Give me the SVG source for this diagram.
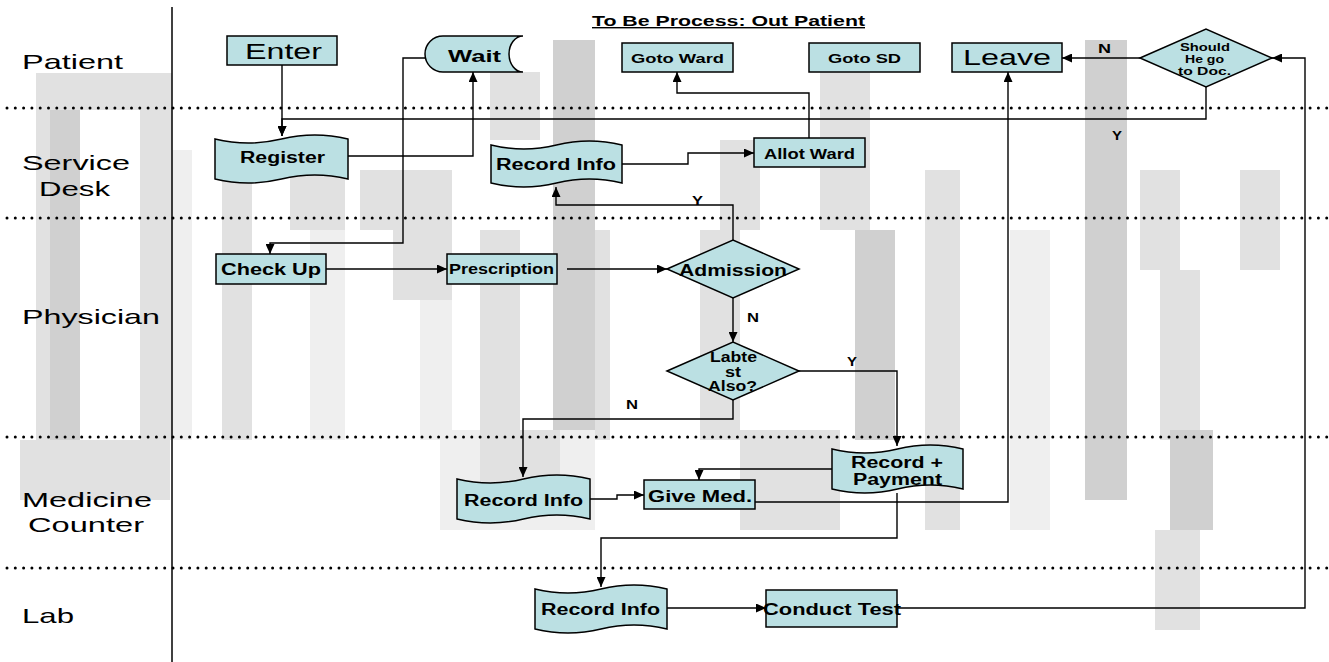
<svg xmlns="http://www.w3.org/2000/svg" width="1329" height="662" viewBox="0 0 1329 662">
<style>
.wm1{fill:#d0d0d0}.wm2{fill:#e1e1e1}.wm3{fill:#efefef}
.node{fill:#bbe0e3;stroke:#000;stroke-width:1.5}
.conn{fill:none;stroke:#000;stroke-width:1.4;marker-end:url(#arr)}
.dot{fill:none;stroke:#000;stroke-width:3;stroke-linecap:round;stroke-dasharray:0 8.3}
text{font-family:"Liberation Sans",Arial,sans-serif;fill:#000}
.lane{font-size:21px}
.b{font-weight:bold}
</style>
<defs>
<marker id="arr" markerUnits="userSpaceOnUse" markerWidth="10" markerHeight="9" refX="10" refY="4.5" orient="auto">
<path d="M0,0 L10,4.5 L0,9 Z" fill="#000"/>
</marker>
</defs>
<rect width="1329" height="662" fill="#fff"/>
<g id="watermark">
<rect class="wm2" x="36" y="73" width="136" height="37"/>
<rect class="wm2" x="36" y="110" width="44" height="330"/>
<rect class="wm1" x="50" y="110" width="30" height="330"/>
<rect class="wm2" x="140" y="110" width="32" height="330"/>
<rect class="wm2" x="20" y="440" width="150" height="60"/>
<rect class="wm3" x="172" y="150" width="20" height="290"/>
<rect class="wm2" x="222" y="170" width="30" height="270"/>
<rect class="wm2" x="290" y="170" width="55" height="60"/>
<rect class="wm3" x="310" y="230" width="35" height="210"/>
<rect class="wm2" x="360" y="170" width="92" height="60"/>
<rect class="wm2" x="393" y="230" width="59" height="70"/>
<rect class="wm3" x="420" y="300" width="32" height="140"/>
<rect class="wm2" x="480" y="230" width="40" height="210"/>
<rect class="wm2" x="490" y="72" width="50" height="68"/>
<rect class="wm1" x="553" y="40" width="42" height="400"/>
<rect class="wm2" x="595" y="230" width="15" height="210"/>
<rect class="wm2" x="700" y="230" width="40" height="210"/>
<rect class="wm2" x="720" y="140" width="40" height="90"/>
<rect class="wm2" x="820" y="72" width="50" height="158"/>
<rect class="wm1" x="855" y="230" width="40" height="210"/>
<rect class="wm2" x="925" y="170" width="35" height="360"/>
<rect class="wm3" x="1010" y="230" width="40" height="300"/>
<rect class="wm1" x="1085" y="40" width="42" height="460"/>
<rect class="wm2" x="1140" y="170" width="40" height="100"/>
<rect class="wm2" x="1160" y="270" width="40" height="170"/>
<rect class="wm2" x="1240" y="170" width="40" height="100"/>
<rect class="wm1" x="1170" y="430" width="43" height="100"/>
<rect class="wm2" x="1155" y="530" width="45" height="100"/>
<rect class="wm2" x="740" y="430" width="100" height="100"/>
<rect class="wm3" x="440" y="430" width="155" height="100"/>
<rect class="wm2" x="480" y="430" width="80" height="70"/>
</g>
<g id="lanes">
<line x1="172" y1="7" x2="172" y2="662" stroke="#000" stroke-width="1.5"/>
<line class="dot" x1="7" y1="108" x2="1329" y2="108"/>
<line class="dot" x1="7" y1="218" x2="1329" y2="218"/>
<line class="dot" x1="7" y1="437" x2="1329" y2="437"/>
<line class="dot" x1="7" y1="568" x2="1329" y2="568"/>
<text class="lane" x="22" y="69" textLength="101" lengthAdjust="spacingAndGlyphs">Patient</text>
<text class="lane" x="22" y="170" textLength="108" lengthAdjust="spacingAndGlyphs">Service</text>
<text class="lane" x="39" y="196" textLength="71" lengthAdjust="spacingAndGlyphs">Desk</text>
<text class="lane" x="22" y="324" textLength="138" lengthAdjust="spacingAndGlyphs">Physician</text>
<text class="lane" x="22" y="507" textLength="130" lengthAdjust="spacingAndGlyphs">Medicine</text>
<text class="lane" x="28" y="532" textLength="116" lengthAdjust="spacingAndGlyphs">Counter</text>
<text class="lane" x="22" y="623" textLength="52" lengthAdjust="spacingAndGlyphs">Lab</text>
<text class="b" x="592" y="26" font-size="14" textLength="273" lengthAdjust="spacingAndGlyphs" text-decoration="underline">To Be Process: Out Patient</text>
</g>
<g id="connectors">
<path class="conn" d="M282,65 V136"/>
<path class="conn" d="M1206,87 V119 H282 V136"/>
<path class="conn" d="M348,156 H473 V72"/>
<path class="conn" d="M425,58 H403 V243 H270 V254"/>
<path class="conn" d="M326,269 H447"/>
<path class="conn" d="M567,269 H667"/>
<path class="conn" d="M733,240 V205 H556 V187"/>
<path class="conn" d="M622,164 H688 V153 H754"/>
<path class="conn" d="M809,138 V93 H677 V72"/>
<path class="conn" d="M733,298 V342"/>
<path class="conn" d="M733,400 V419 H523 V477"/>
<path class="conn" d="M799,371 H897 V446"/>
<path class="conn" d="M832,469 H699 V480"/>
<path class="conn" d="M590,499 H617 V495 H644"/>
<path class="conn" d="M755,502 H1008 V72"/>
<path class="conn" d="M897,493 V538 H601 V587"/>
<path class="conn" d="M667,608 H766"/>
<path class="conn" d="M897,608 H1305 V58 H1272"/>
<path class="conn" d="M1140,58 H1062"/>
<text class="b" x="1098" y="53" font-size="12" textLength="13" lengthAdjust="spacingAndGlyphs">N</text>
<text class="b" x="1112" y="140" font-size="12" textLength="10" lengthAdjust="spacingAndGlyphs">Y</text>
<text class="b" x="692" y="205" font-size="12" textLength="11" lengthAdjust="spacingAndGlyphs">Y</text>
<text class="b" x="747" y="322" font-size="12" textLength="12" lengthAdjust="spacingAndGlyphs">N</text>
<text class="b" x="847" y="366" font-size="12" textLength="10" lengthAdjust="spacingAndGlyphs">Y</text>
<text class="b" x="626" y="409" font-size="12" textLength="12" lengthAdjust="spacingAndGlyphs">N</text>
</g>
<g id="enter">
<rect class="node" x="227" y="36" width="110" height="29"/>
<text x="245" y="59" font-size="22" textLength="77" lengthAdjust="spacingAndGlyphs">Enter</text>
</g>
<g id="wait">
<path class="node" d="M443,36 H523 A14,18 0 0 0 523,72 H443 A18,18 0 0 1 443,36 Z"/>
<text class="b" x="448" y="62" font-size="17" textLength="53" lengthAdjust="spacingAndGlyphs">Wait</text>
</g>
<g id="goto-ward">
<rect class="node" x="622" y="43" width="111" height="29"/>
<text class="b" x="631" y="63" font-size="13" textLength="93" lengthAdjust="spacingAndGlyphs">Goto Ward</text>
</g>
<g id="goto-sd">
<rect class="node" x="809" y="43" width="111" height="29"/>
<text class="b" x="828" y="63" font-size="13" textLength="73" lengthAdjust="spacingAndGlyphs">Goto SD</text>
</g>
<g id="leave">
<rect class="node" x="952" y="43" width="110" height="29"/>
<text x="963" y="65" font-size="22" textLength="88" lengthAdjust="spacingAndGlyphs">Leave</text>
</g>
<g id="should-go-doc">
<polygon class="node" points="1140,58 1206,29 1272,58 1206,87"/>
<text class="b" x="1180" y="51" font-size="11" textLength="50" lengthAdjust="spacingAndGlyphs">Should</text>
<text class="b" x="1185" y="63" font-size="11" textLength="39" lengthAdjust="spacingAndGlyphs">He go</text>
<text class="b" x="1178" y="75" font-size="11" textLength="53" lengthAdjust="spacingAndGlyphs">to Doc.</text>
</g>
<g id="register">
<path class="node" d="M215,139 Q248.25,147 281.5,139 Q314.75,131 348,139 V179 Q314.75,171 281.5,179 Q248.25,187 215,179 Z"/>
<text class="b" x="240" y="163" font-size="16" textLength="85" lengthAdjust="spacingAndGlyphs">Register</text>
</g>
<g id="record-info-sd">
<path class="node" d="M491,145 Q523.75,153 556.5,145 Q589.25,137 622,145 V183 Q589.25,175 556.5,183 Q523.75,191 491,183 Z"/>
<text class="b" x="496" y="170" font-size="16" textLength="120" lengthAdjust="spacingAndGlyphs">Record Info</text>
</g>
<g id="allot-ward">
<rect class="node" x="754" y="138" width="111" height="29"/>
<text class="b" x="764" y="159" font-size="14" textLength="91" lengthAdjust="spacingAndGlyphs">Allot Ward</text>
</g>
<g id="check-up">
<rect class="node" x="216" y="254" width="110" height="30"/>
<text class="b" x="221" y="275" font-size="16" textLength="100" lengthAdjust="spacingAndGlyphs">Check Up</text>
</g>
<g id="prescription">
<rect class="node" x="447" y="254" width="110" height="30"/>
<text class="b" x="449" y="274" font-size="14" textLength="105" lengthAdjust="spacingAndGlyphs">Prescription</text>
</g>
<g id="admission">
<polygon class="node" points="667,269 733,240 799,269 733,298"/>
<text class="b" x="679" y="276" font-size="16" textLength="108" lengthAdjust="spacingAndGlyphs">Admission</text>
</g>
<g id="labtest-also">
<polygon class="node" points="667,371 733,342 799,371 733,400"/>
<text class="b" x="710" y="362" font-size="14" textLength="47" lengthAdjust="spacingAndGlyphs">Labte</text>
<text class="b" x="725" y="377" font-size="14" textLength="16" lengthAdjust="spacingAndGlyphs">st</text>
<text class="b" x="708" y="391" font-size="14" textLength="49" lengthAdjust="spacingAndGlyphs">Also?</text>
</g>
<g id="record-info-mc">
<path class="node" d="M457,479 Q490.25,487 523.5,479 Q556.75,471 590,479 V519 Q556.75,511 523.5,519 Q490.25,527 457,519 Z"/>
<text class="b" x="464" y="506" font-size="16" textLength="119" lengthAdjust="spacingAndGlyphs">Record Info</text>
</g>
<g id="give-med">
<rect class="node" x="644" y="480" width="111" height="29"/>
<text class="b" x="648" y="502" font-size="16" textLength="104" lengthAdjust="spacingAndGlyphs">Give Med.</text>
</g>
<g id="record-payment">
<path class="node" d="M832,449 Q864.75,457 897.5,449 Q930.25,441 963,449 V489 Q930.25,481 897.5,489 Q864.75,497 832,489 Z"/>
<text class="b" x="851" y="468" font-size="16" textLength="92" lengthAdjust="spacingAndGlyphs">Record +</text>
<text class="b" x="853" y="485" font-size="16" textLength="89" lengthAdjust="spacingAndGlyphs">Payment</text>
</g>
<g id="record-info-lab">
<path class="node" d="M535,589 Q568,597 601,589 Q634,581 667,589 V629 Q634,621 601,629 Q568,637 535,629 Z"/>
<text class="b" x="541" y="615" font-size="16" textLength="119" lengthAdjust="spacingAndGlyphs">Record Info</text>
</g>
<g id="conduct-test">
<rect class="node" x="766" y="590" width="131" height="37"/>
<text class="b" x="763" y="615" font-size="16" textLength="138" lengthAdjust="spacingAndGlyphs">Conduct Test</text>
</g>
</svg>
